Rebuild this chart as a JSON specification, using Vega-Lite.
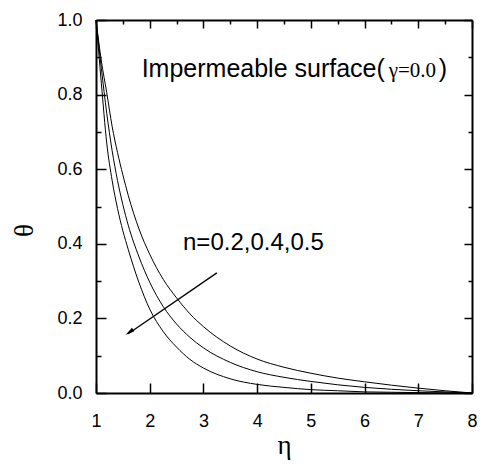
{
  "$schema": "https://vega.github.io/schema/vega-lite/v6.json",
  "width": 376,
  "height": 373,
  "autosize": {"type": "none"},
  "padding": {"left": 96, "top": 20, "right": 11, "bottom": 74},
  "background": "white",
  "config": {
    "view": {"stroke": null},
    "axis": {
      "domainColor": "black",
      "domainWidth": 2,
      "tickColor": "black",
      "tickWidth": 1.5,
      "labelFont": "Liberation Sans",
      "labelFontSize": 18,
      "labelColor": "black",
      "labelFlush": false,
      "titleFont": "Liberation Serif",
      "titleFontSize": 27,
      "titleFontWeight": "normal",
      "titleColor": "black",
      "grid": false
    }
  },
  "datasets": {
    "curves": [
      {"eta": 1.0, "theta": 1.0, "n": "0.2"},
      {"eta": 1.1, "theta": 0.89, "n": "0.2"},
      {"eta": 1.2, "theta": 0.805, "n": "0.2"},
      {"eta": 1.3, "theta": 0.715, "n": "0.2"},
      {"eta": 1.4, "theta": 0.645, "n": "0.2"},
      {"eta": 1.5, "theta": 0.585, "n": "0.2"},
      {"eta": 1.6, "theta": 0.53, "n": "0.2"},
      {"eta": 1.8, "theta": 0.44, "n": "0.2"},
      {"eta": 2.0, "theta": 0.372, "n": "0.2"},
      {"eta": 2.25, "theta": 0.305, "n": "0.2"},
      {"eta": 2.5, "theta": 0.255, "n": "0.2"},
      {"eta": 2.75, "theta": 0.212, "n": "0.2"},
      {"eta": 3.0, "theta": 0.178, "n": "0.2"},
      {"eta": 3.5, "theta": 0.126, "n": "0.2"},
      {"eta": 4.0, "theta": 0.091, "n": "0.2"},
      {"eta": 4.5, "theta": 0.069, "n": "0.2"},
      {"eta": 5.0, "theta": 0.053, "n": "0.2"},
      {"eta": 5.5, "theta": 0.04, "n": "0.2"},
      {"eta": 6.0, "theta": 0.03, "n": "0.2"},
      {"eta": 6.5, "theta": 0.021, "n": "0.2"},
      {"eta": 7.0, "theta": 0.013, "n": "0.2"},
      {"eta": 7.5, "theta": 0.006, "n": "0.2"},
      {"eta": 8.0, "theta": 0.0, "n": "0.2"},
      {"eta": 1.0, "theta": 1.0, "n": "0.4"},
      {"eta": 1.1, "theta": 0.87, "n": "0.4"},
      {"eta": 1.2, "theta": 0.75, "n": "0.4"},
      {"eta": 1.3, "theta": 0.65, "n": "0.4"},
      {"eta": 1.4, "theta": 0.57, "n": "0.4"},
      {"eta": 1.5, "theta": 0.505, "n": "0.4"},
      {"eta": 1.6, "theta": 0.45, "n": "0.4"},
      {"eta": 1.8, "theta": 0.365, "n": "0.4"},
      {"eta": 2.0, "theta": 0.297, "n": "0.4"},
      {"eta": 2.25, "theta": 0.232, "n": "0.4"},
      {"eta": 2.5, "theta": 0.185, "n": "0.4"},
      {"eta": 2.75, "theta": 0.149, "n": "0.4"},
      {"eta": 3.0, "theta": 0.121, "n": "0.4"},
      {"eta": 3.5, "theta": 0.082, "n": "0.4"},
      {"eta": 4.0, "theta": 0.057, "n": "0.4"},
      {"eta": 4.5, "theta": 0.042, "n": "0.4"},
      {"eta": 5.0, "theta": 0.031, "n": "0.4"},
      {"eta": 5.5, "theta": 0.022, "n": "0.4"},
      {"eta": 6.0, "theta": 0.015, "n": "0.4"},
      {"eta": 6.5, "theta": 0.01, "n": "0.4"},
      {"eta": 7.0, "theta": 0.006, "n": "0.4"},
      {"eta": 7.5, "theta": 0.003, "n": "0.4"},
      {"eta": 8.0, "theta": 0.0, "n": "0.4"},
      {"eta": 1.0, "theta": 1.0, "n": "0.5"},
      {"eta": 1.1, "theta": 0.83, "n": "0.5"},
      {"eta": 1.2, "theta": 0.67, "n": "0.5"},
      {"eta": 1.3, "theta": 0.57, "n": "0.5"},
      {"eta": 1.4, "theta": 0.495, "n": "0.5"},
      {"eta": 1.5, "theta": 0.435, "n": "0.5"},
      {"eta": 1.6, "theta": 0.385, "n": "0.5"},
      {"eta": 1.8, "theta": 0.296, "n": "0.5"},
      {"eta": 2.0, "theta": 0.225, "n": "0.5"},
      {"eta": 2.25, "theta": 0.165, "n": "0.5"},
      {"eta": 2.5, "theta": 0.123, "n": "0.5"},
      {"eta": 2.75, "theta": 0.09, "n": "0.5"},
      {"eta": 3.0, "theta": 0.067, "n": "0.5"},
      {"eta": 3.5, "theta": 0.038, "n": "0.5"},
      {"eta": 4.0, "theta": 0.023, "n": "0.5"},
      {"eta": 4.5, "theta": 0.015, "n": "0.5"},
      {"eta": 5.0, "theta": 0.009, "n": "0.5"},
      {"eta": 5.5, "theta": 0.006, "n": "0.5"},
      {"eta": 6.0, "theta": 0.003, "n": "0.5"},
      {"eta": 6.5, "theta": 0.002, "n": "0.5"},
      {"eta": 7.0, "theta": 0.001, "n": "0.5"},
      {"eta": 7.5, "theta": 0.0005, "n": "0.5"},
      {"eta": 8.0, "theta": 0.0, "n": "0.5"}
    ]
  },
  "resolve": {"axis": {"x": "independent", "y": "independent"}},
  "layer": [
    {
      "data": {"name": "curves"},
      "mark": {"type": "line", "interpolate": "monotone", "strokeWidth": 1, "color": "black"},
      "encoding": {
        "x": {
          "field": "eta", "type": "quantitative",
          "scale": {"domain": [1, 8], "nice": false, "zero": false},
          "axis": {
            "orient": "bottom",
            "title": "η",
            "values": [1, 1.5, 2, 2.5, 3, 3.5, 4, 4.5, 5, 5.5, 6, 6.5, 7, 7.5, 8],
            "format": "d",
            "labelExpr": "datum.value % 1 === 0 ? datum.label : ''",
            "tickSize": {"condition": {"test": "datum.value % 1 === 0", "value": -10}, "value": -5},
            "labelPadding": 29,
            "titleBaseline": "middle",
            "titleAnchor": "middle",
            "titleY": 52
          }
        },
        "y": {
          "field": "theta", "type": "quantitative",
          "scale": {"domain": [0, 1], "nice": false, "zero": false},
          "axis": {
            "orient": "left",
            "title": "θ",
            "values": [0, 0.1, 0.2, 0.3, 0.4, 0.5, 0.6, 0.7, 0.8, 0.9, 1.0],
            "format": ".1f",
            "labelExpr": "round(datum.value * 10) % 2 === 0 ? datum.label : ''",
            "tickSize": {"condition": {"test": "round(datum.value * 10) % 2 === 0", "value": -10}, "value": -5},
            "labelPadding": 24,
            "titleBaseline": "middle",
            "titleAlign": "center",
            "titleX": -72,
            "titleY": 210
          }
        },
        "detail": {"field": "n", "type": "nominal"}
      }
    },
    {
      "data": {"name": "curves"},
      "mark": {"type": "point", "opacity": 0},
      "encoding": {
        "x": {
          "field": "eta", "type": "quantitative",
          "axis": {
            "orient": "top",
            "title": null,
            "labels": false,
            "values": [1, 1.5, 2, 2.5, 3, 3.5, 4, 4.5, 5, 5.5, 6, 6.5, 7, 7.5, 8],
            "tickSize": {"condition": {"test": "datum.value % 1 === 0", "value": -8}, "value": -4}
          }
        },
        "y": {
          "field": "theta", "type": "quantitative",
          "axis": {
            "orient": "right",
            "title": null,
            "labels": false,
            "values": [0, 0.1, 0.2, 0.3, 0.4, 0.5, 0.6, 0.7, 0.8, 0.9, 1.0],
            "tickSize": {"condition": {"test": "round(datum.value * 10) % 2 === 0", "value": -8}, "value": -4}
          }
        }
      }
    },
    {
      "data": {"values": [{}]},
      "mark": {"type": "text", "font": "Liberation Sans", "fontSize": 25, "align": "left", "baseline": "alphabetic", "color": "black"},
      "encoding": {
        "x": {"datum": 1.85, "type": "quantitative", "axis": null},
        "y": {"datum": 0.847, "type": "quantitative", "axis": null},
        "text": {"value": "Impermeable surface("}
      }
    },
    {
      "data": {"values": [{}]},
      "mark": {"type": "text", "font": "Liberation Serif", "fontSize": 21, "align": "left", "baseline": "alphabetic", "color": "black"},
      "encoding": {
        "x": {"datum": 6.45, "type": "quantitative", "axis": null},
        "y": {"datum": 0.847, "type": "quantitative", "axis": null},
        "text": {"value": "γ=0.0"}
      }
    },
    {
      "data": {"values": [{}]},
      "mark": {"type": "text", "font": "Liberation Sans", "fontSize": 25, "align": "left", "baseline": "alphabetic", "color": "black"},
      "encoding": {
        "x": {"datum": 7.38, "type": "quantitative", "axis": null},
        "y": {"datum": 0.847, "type": "quantitative", "axis": null},
        "text": {"value": ")"}
      }
    },
    {
      "data": {"values": [{}]},
      "mark": {"type": "text", "font": "Liberation Sans", "fontSize": 24, "align": "left", "baseline": "alphabetic", "color": "black"},
      "encoding": {
        "x": {"datum": 2.62, "type": "quantitative", "axis": null},
        "y": {"datum": 0.383, "type": "quantitative", "axis": null},
        "text": {"value": "n=0.2,0.4,0.5"}
      }
    },
    {
      "data": {"values": [{}]},
      "mark": {"type": "rule", "color": "black", "strokeWidth": 1.3},
      "encoding": {
        "x": {"datum": 3.25, "type": "quantitative", "axis": null},
        "y": {"datum": 0.322, "type": "quantitative", "axis": null},
        "x2": {"datum": 1.6},
        "y2": {"datum": 0.159}
      }
    },
    {
      "data": {"values": [{}]},
      "mark": {"type": "point", "shape": "M0,-1L0.45,1L-0.45,1Z", "filled": true, "color": "black", "opacity": 1, "size": 90, "angle": 235.5},
      "encoding": {
        "x": {"datum": 1.62, "type": "quantitative", "axis": null},
        "y": {"datum": 0.163, "type": "quantitative", "axis": null}
      }
    }
  ]
}
